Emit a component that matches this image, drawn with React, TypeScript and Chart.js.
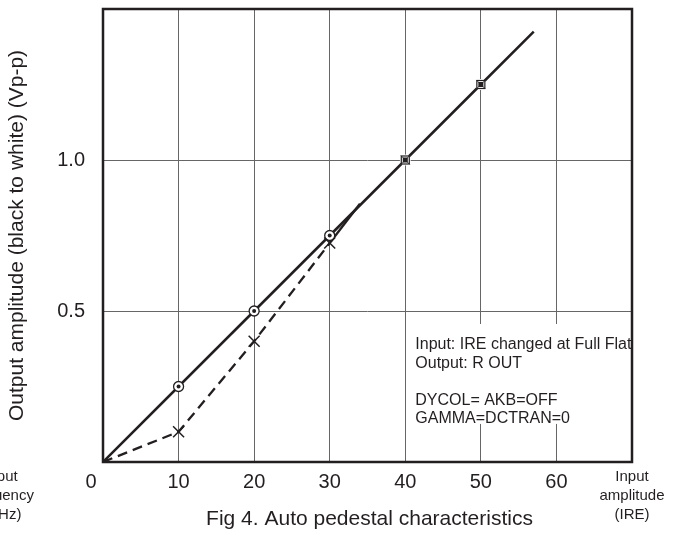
import React, { useEffect, useRef } from "react";
import { Chart, registerables } from "chart.js";

Chart.register(...registerables);

// ---- data ----
const solidX = [0, 10, 20, 30, 40, 50, 57];
const solidY = [0, 0.25, 0.5, 0.75, 1.0, 1.25, 1.425];
const solidMarks = ["none", "dot", "dot", "dot", "box", "box", "none"];
const dashedX = [0, 10, 20, 30, 34];
const dashedY = [0, 0.1, 0.4, 0.725, 0.855];
const dashedMarks = ["none", "cross", "cross", "cross", "none"];
const xLabelsHidden = [0, 70];
const yLabelsHidden = [0, 1.5];
const noteLines = [
  "Input: IRE changed at Full Flat",
  "Output: R OUT",
  "",
  "DYCOL= AKB=OFF",
  "GAMMA=DCTRAN=0",
];
const xAxisName = ["Input", "amplitude", "(IRE)"];
const leftCutName = ["Input", "frequency", "(MHz)"];
const yAxisName = "Output amplitude (black to white) (Vp-p)";
const figTitle = "Fig 4. Auto pedestal characteristics";

const FONT = "'Liberation Sans', Arial, Helvetica, sans-serif";
const INK = "#231f20";

const decorPlugin = {
  id: "decor",
  beforeDatasetsDraw(chart: any) {
    const { ctx, chartArea, scales } = chart;
    const xs = scales.x;
    const ys = scales.y;
    // white note box
    const bx = xs.getPixelForValue(40) + 3;
    const by = ys.getPixelForValue(0.457);
    const bb = ys.getPixelForValue(0.126);
    ctx.save();
    ctx.fillStyle = "#fff";
    ctx.fillRect(bx, by, chartArea.right - bx, bb - by);
    ctx.fillStyle = INK;
    ctx.font = `16px ${FONT}`;
    ctx.textAlign = "left";
    ctx.textBaseline = "middle";
    noteLines.forEach((t, i) => {
      ctx.fillText(t, bx + 7, by + 21 + i * 18.5);
    });
    ctx.restore();
  },
  afterDatasetsDraw(chart: any) {
    const { ctx } = chart;
    ctx.save();
    const m0 = chart.getDatasetMeta(0);
    m0.data.forEach((p: any, i: number) => {
      const k = solidMarks[i];
      if (k === "dot") {
        ctx.fillStyle = "#fff";
        ctx.strokeStyle = INK;
        ctx.lineWidth = 1.3;
        ctx.beginPath();
        ctx.arc(p.x, p.y, 5, 0, Math.PI * 2);
        ctx.fill();
        ctx.stroke();
        ctx.fillStyle = INK;
        ctx.beginPath();
        ctx.arc(p.x, p.y, 2, 0, Math.PI * 2);
        ctx.fill();
      } else if (k === "box") {
        ctx.fillStyle = "#fff";
        ctx.strokeStyle = "#555";
        ctx.lineWidth = 1;
        ctx.beginPath();
        ctx.arc(p.x, p.y, 5.5, 0, Math.PI * 2);
        ctx.fill();
        ctx.beginPath();
        ctx.moveTo(p.x - 4.5, p.y - 4.5);
        ctx.lineTo(p.x + 4.5, p.y + 4.5);
        ctx.moveTo(p.x + 4.5, p.y - 4.5);
        ctx.lineTo(p.x - 4.5, p.y + 4.5);
        ctx.stroke();
        ctx.strokeStyle = INK;
        ctx.lineWidth = 1.2;
        ctx.strokeRect(p.x - 4, p.y - 4, 8, 8);
        ctx.fillStyle = INK;
        ctx.fillRect(p.x - 2.5, p.y - 2.5, 5, 5);
      }
    });
    const m1 = chart.getDatasetMeta(1);
    m1.data.forEach((p: any, i: number) => {
      if (dashedMarks[i] !== "cross") return;
      ctx.strokeStyle = INK;
      ctx.lineWidth = 1.5;
      ctx.beginPath();
      ctx.moveTo(p.x - 5.5, p.y - 5.5);
      ctx.lineTo(p.x + 5.5, p.y + 5.5);
      ctx.moveTo(p.x + 5.5, p.y - 5.5);
      ctx.lineTo(p.x - 5.5, p.y + 5.5);
      ctx.stroke();
    });
    ctx.restore();
  },
  afterDraw(chart: any) {
    const { ctx, chartArea, scales } = chart;
    const xs = scales.x;
    ctx.save();
    // frame
    ctx.strokeStyle = INK;
    ctx.lineWidth = 2.5;
    ctx.strokeRect(
      chartArea.left,
      chartArea.top,
      chartArea.right - chartArea.left,
      chartArea.bottom - chartArea.top
    );
    ctx.fillStyle = INK;
    ctx.textBaseline = "middle";
    // origin label
    ctx.font = `20px ${FONT}`;
    ctx.textAlign = "center";
    ctx.fillText("0", xs.getPixelForValue(0) - 12, chartArea.bottom + 20);
    // x axis name at right
    ctx.font = `15px ${FONT}`;
    xAxisName.forEach((t, i) => {
      ctx.fillText(t, chartArea.right, chartArea.bottom + 15 + i * 19);
    });
    // partially visible left label
    leftCutName.forEach((t, i) => {
      ctx.fillText(t, 1, chartArea.bottom + 15 + i * 19);
    });
    // figure title
    ctx.font = `21px ${FONT}`;
    ctx.fillText(figTitle, (chartArea.left + chartArea.right) / 2 + 2, chartArea.bottom + 57);
    ctx.restore();
  },
};

export default function App() {
  const ref = useRef<HTMLCanvasElement>(null);
  useEffect(() => {
    if (!ref.current) return;
    Chart.defaults.font.family = FONT;
    const chart = new Chart(ref.current, {
      type: "line",
      data: {
        datasets: [
          {
            data: solidX.map((x, i) => ({ x, y: solidY[i] })),
            borderColor: INK,
            borderWidth: 2.5,
            pointRadius: 0,
            fill: false,
          },
          {
            data: dashedX.map((x, i) => ({ x, y: dashedY[i] })),
            borderColor: INK,
            borderWidth: 2.3,
            pointRadius: 0,
            fill: false,
            segment: {
              borderDash: (c: any) => (c.p1DataIndex <= 3 ? [10, 6] : []),
            },
          },
        ],
      },
      options: {
        animation: false,
        responsive: false,
        devicePixelRatio: 1,
        layout: { padding: { top: 9, right: 46, left: 0, bottom: 0 } },
        plugins: { legend: { display: false }, tooltip: { enabled: false }, title: { display: false } },
        scales: {
          x: {
            type: "linear",
            min: 0,
            max: 70,
            ticks: {
              stepSize: 10,
              color: INK,
              font: { size: 20 },
              padding: 8,
              maxRotation: 0,
              callback: (v: any) => (xLabelsHidden.includes(Number(v)) ? "" : String(v)),
            },
            grid: { color: "#666", lineWidth: 1, drawTicks: false },
            border: { display: false },
            afterFit: (s: any) => {
              s.height = 74;
              s.paddingLeft = 0;
              s.paddingRight = 0;
            },
          },
          y: {
            type: "linear",
            min: 0,
            max: 1.5,
            ticks: {
              stepSize: 0.5,
              color: INK,
              font: { size: 20 },
              padding: 18,
              callback: (v: any) =>
                yLabelsHidden.includes(Number(v)) ? "" : Number(v).toFixed(1),
            },
            grid: { color: "#666", lineWidth: 1, drawTicks: false },
            border: { display: false },
            title: {
              display: true,
              text: yAxisName,
              color: INK,
              font: { size: 21 },
              padding: { top: 5, bottom: 0 },
            },
            afterFit: (s: any) => {
              s.width = 103;
              s.paddingTop = 0;
              s.paddingBottom = 0;
            },
          },
        },
      },
      plugins: [decorPlugin],
    });
    return () => chart.destroy();
  }, []);
  return (
    <div style={{ position: "absolute", left: 0, top: 0, width: 678, height: 536, background: "#fff" }}>
      <canvas ref={ref} width={678} height={536} style={{ width: 678, height: 536, display: "block" }} />
    </div>
  );
}
